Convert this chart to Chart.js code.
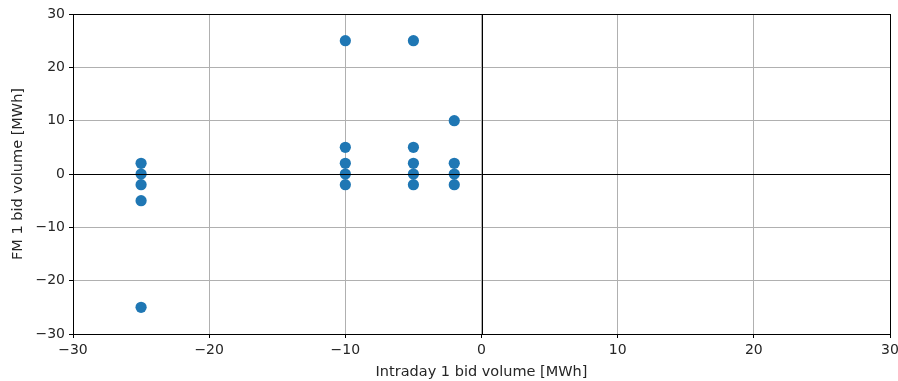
<!DOCTYPE html>
<html>
<head>
<meta charset="utf-8">
<script src="https://cdn.jsdelivr.net/npm/chart.js@4/dist/chart.umd.min.js"></script>
<style>
  html, body { margin: 0; padding: 0; background: #fff; }
  #wrap { width: 898px; height: 381px; }
</style>
</head>
<body>
<div id="wrap"><canvas id="scatter"></canvas></div>
<script>
// intraday bid volume (x) vs FM bid volume (y), in MWh
const intradayVolume = [-25, -25, -25, -25, -25, -10, -10, -10, -10, -10, -5, -5, -5, -5, -5, -2, -2, -2, -2];
const fmVolume       = [  2,   0,  -2,  -5, -25,  25,   5,   2,   0,  -2, 25,  5,  2,  0, -2, 10,  2,  0, -2];
const axisTicks = [-30, -20, -10, 0, 10, 20, 30];

const fontFamily = '"DejaVu Sans", sans-serif';
const fmtTick = v => (v < 0 ? '\u2212' + Math.abs(v) : String(v));

// frame around the plot plus the black lines through zero, drawn over the points
const frameAndZero = {
    id: 'frameAndZero',
    afterDatasetsDraw(chart) {
        const { ctx, chartArea: a, scales: { x, y } } = chart;
        ctx.save();
        ctx.strokeStyle = '#000';
        ctx.lineWidth = 1;
        const x0 = Math.round(x.getPixelForValue(0)) + 0.5;
        const y0 = Math.round(y.getPixelForValue(0)) + 0.5;
        ctx.beginPath();
        ctx.moveTo(a.left, y0); ctx.lineTo(a.right, y0);
        ctx.moveTo(x0, a.top); ctx.lineTo(x0, a.bottom);
        ctx.stroke();
        ctx.strokeRect(Math.round(a.left) + 0.5, Math.round(a.top) + 0.5,
            Math.round(a.right - a.left), Math.round(a.bottom - a.top));
        ctx.restore();
    }
};

const scaleBase = {
    type: 'linear',
    min: -30,
    max: 30,
    border: { display: false },
    grid: { color: '#b0b0b0', lineWidth: 1, tickLength: 4, tickColor: '#000', drawTicks: true },
    afterBuildTicks: s => { s.ticks = axisTicks.map(v => ({ value: v })); },
    ticks: {
        color: '#262626',
        font: { family: fontFamily, size: 14 },
        callback: fmtTick
    },
    title: { display: true, color: '#262626', font: { family: fontFamily, size: 14.5 } }
};

new Chart(document.getElementById('scatter'), {
    type: 'scatter',
    data: {
        datasets: [{
            data: intradayVolume.map((v, i) => ({ x: v, y: fmVolume[i] })),
            backgroundColor: '#1f77b4',
            borderColor: '#1f77b4',
            borderWidth: 0,
            pointRadius: 5.6
        }]
    },
    options: {
        responsive: true,
        maintainAspectRatio: false,
        animation: false,
        layout: { padding: { top: 14, right: 0, left: 10, bottom: 0 } },
        plugins: { legend: { display: false }, tooltip: { enabled: false } },
        scales: {
            x: {
                ...scaleBase,
                ticks: { ...scaleBase.ticks, padding: 4, maxRotation: 0 },
                title: { ...scaleBase.title, text: 'Intraday 1 bid volume [MWh]', padding: { top: 2, bottom: 0 } },
                afterFit: s => { s.height = 47; s.paddingRight = 8; }
            },
            y: {
                ...scaleBase,
                ticks: { ...scaleBase.ticks, padding: 4 },
                title: { ...scaleBase.title, text: 'FM 1 bid volume [MWh]', padding: { top: 0, bottom: 4 } },
                afterFit: s => { s.width = 63; }
            }
        }
    },
    plugins: [frameAndZero]
});
</script>
</body>
</html>
